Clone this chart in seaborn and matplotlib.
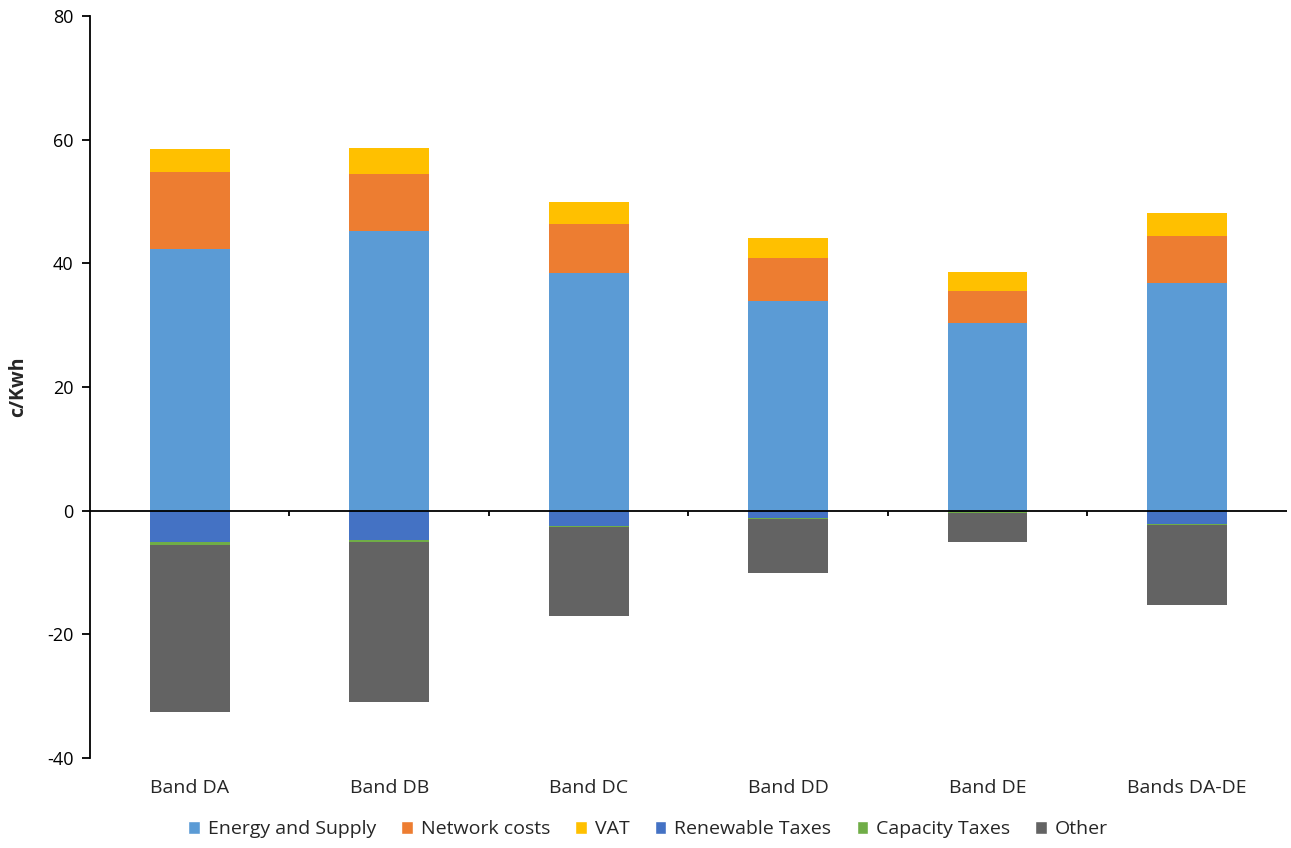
import numpy as np
import matplotlib
matplotlib.use("Agg")
import matplotlib.pyplot as plt
from matplotlib.patches import Patch
import pandas as pd
import seaborn as sns

bands = ["Band DA", "Band DB", "Band DC", "Band DD", "Band DE", "Bands DA-DE"]
energy = [42.3, 45.2, 38.4, 34.0, 30.4, 36.8]
network = [12.5, 9.3, 8.0, 6.8, 5.2, 7.6]
vat = [3.7, 4.2, 3.6, 3.3, 3.0, 3.7]
renewable = [-5.0, -4.7, -2.5, -1.2, -0.2, -2.1]
capacity = [-0.5, -0.3, -0.15, -0.2, -0.2, -0.15]
other = [-27.0, -25.9, -14.3, -8.6, -4.6, -13.0]

series = ["Energy and Supply", "Network costs", "VAT",
          "Renewable Taxes", "Capacity Taxes", "Other"]
colors = ["#5B9BD5", "#ED7D31", "#FFC000", "#4472C4", "#70AD47", "#636363"]

sns.set_style("white")
plt.rcParams["font.family"] = ["Open Sans", "DejaVu Sans"]
plt.rcParams["axes.unicode_minus"] = False

df = pd.DataFrame({"band": bands, "energy": energy, "network": network, "vat": vat,
                   "renewable": renewable, "capacity": capacity, "other": other})
# cumulative stacks, drawn from the outermost inwards
df["pos1"] = df["energy"]
df["pos2"] = df["pos1"] + df["network"]
df["pos3"] = df["pos2"] + df["vat"]
df["neg1"] = df["renewable"]
df["neg2"] = df["neg1"] + df["capacity"]
df["neg3"] = df["neg2"] + df["other"]

fig = plt.figure(figsize=(12.91, 8.48), dpi=100)
ax = fig.add_axes([0.0697, 0.106, 0.927, 0.875])

for col, c in [("pos3", colors[2]), ("pos2", colors[1]), ("pos1", colors[0]),
               ("neg3", colors[5]), ("neg2", colors[4]), ("neg1", colors[3])]:
    sns.barplot(data=df, x="band", y=col, color=c, width=0.4, saturation=1,
                linewidth=0, ax=ax)

ax.set_ylim(-40, 80)
ax.set_xlim(-0.5, len(bands) - 0.5)
ax.set_yticks(np.arange(-40, 81, 20))
ax.set_xlabel("")
ax.set_ylabel("c/Kwh", fontsize=14, fontweight="bold")
ax.yaxis.set_label_coords(-0.052, 0.5)

for s in ["top", "right", "bottom"]:
    ax.spines[s].set_visible(False)
ax.spines["left"].set_linewidth(1.3)
ax.spines["left"].set_color("black")
ax.axhline(0, color="black", lw=1.3, zorder=5)
ax.vlines(np.arange(len(bands) - 1) + 0.5, 0, -0.9, color="black", lw=1.3, zorder=5)

ax.tick_params(axis="y", direction="out", length=6, width=1.3, left=True,
               labelsize=13, colors="black", pad=6)
ax.tick_params(axis="x", length=0, labelsize=14, pad=15)

handles = [Patch(facecolor=c, label=s) for s, c in zip(series, colors)]
fig.legend(handles=handles, loc="center", bbox_to_anchor=(0.502, 0.022), ncol=6,
           frameon=False, fontsize=14, handlelength=0.6, handleheight=0.6,
           handletextpad=0.4, columnspacing=1.3)

fig.savefig("out.png", dpi=100)
